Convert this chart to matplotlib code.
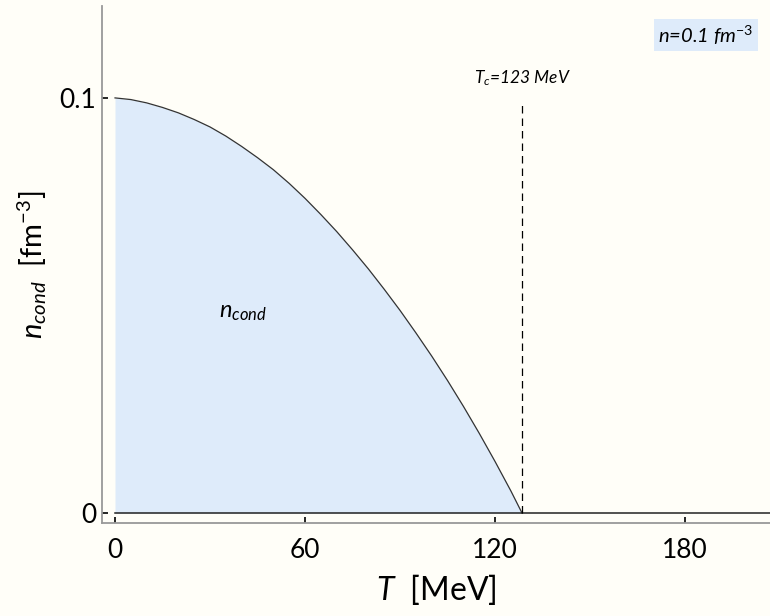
import numpy as np
import matplotlib
matplotlib.use("Agg")
import matplotlib.pyplot as plt

plt.rcParams['font.family'] = ['Lato', 'DejaVu Sans']
plt.rcParams['mathtext.fontset'] = 'custom'
plt.rcParams['mathtext.rm'] = 'Lato'
plt.rcParams['mathtext.it'] = 'Lato:italic'
plt.rcParams['mathtext.bf'] = 'Lato:bold'

# values
T_MeV = [0, 5, 10, 15, 20, 25, 30, 35, 40, 45, 50, 55, 60, 65, 70, 75, 80, 85,
         90, 95, 100, 105, 110, 115, 120, 125, 128.5]
n_cond = [0.1000, 0.0996, 0.0988, 0.0977, 0.0964, 0.0948, 0.0930, 0.0908, 0.0883,
          0.0856, 0.0827, 0.0794, 0.0758, 0.0719, 0.0678, 0.0634, 0.0588, 0.0539,
          0.0488, 0.0434, 0.0378, 0.0319, 0.0257, 0.0192, 0.0124, 0.0053, 0.0]
T_c_line = 128.5
T_c_label = "$T_c$=123 MeV"
x_ticks = [0, 60, 120, 180]
y_ticks = [0, 0.1]
y_ticklabels = ["0", "0.1"]

bg = '#fffef8'
fig = plt.figure(figsize=(7.7, 6.16), dpi=100, facecolor=bg)
ax = fig.add_axes([0.1325, 0.151, 0.8675, 0.839], facecolor=bg)

ax.fill_between(T_MeV, n_cond, 0, color='#deebfa', lw=0)
ax.plot(T_MeV, n_cond, color='#333333', lw=0.9)
ax.axhline(0, xmin=(0 + 4.1) / (206.8 + 4.1), color='#222222', lw=1.1)
ax.plot([T_c_line, T_c_line], [0, 0.099], color='black', lw=0.9, ls=(0, (6, 4)))

ax.text(T_c_line, 0.1047, T_c_label, style='italic', fontsize=12.5,
        ha='center', va='center')
ax.text(40.4, 0.0484, "$n_{cond}$", fontsize=17, ha='center', va='center')
fig.text(0.917, 0.943, "$n$=0.1 fm$^{-3}$", style='italic', fontsize=14.5,
         ha='center', va='center',
         bbox=dict(boxstyle='square,pad=0.22', fc='#deebfa', ec='none'))

ax.set_xlim(-4.1, 206.8)
ax.set_ylim(-0.0024, 0.1221)
ax.set_xticks(x_ticks)
ax.set_yticks(y_ticks)
ax.set_yticklabels(y_ticklabels)
ax.tick_params(direction='in', length=4, width=1.2, color='black', labelsize=19)
ax.tick_params(axis='x', pad=11)
ax.tick_params(axis='y', pad=4)

for s in ['top', 'right']:
    ax.spines[s].set_visible(False)
for s in ['left', 'bottom']:
    ax.spines[s].set_color('#999999')
    ax.spines[s].set_linewidth(1.3)

ax.set_xlabel("$T$  [MeV]", fontsize=23, labelpad=6)
ax.set_ylabel("$n_{cond}$  [fm$^{-3}$]", fontsize=21, labelpad=8)

fig.savefig("out.png", dpi=100, facecolor=bg)
